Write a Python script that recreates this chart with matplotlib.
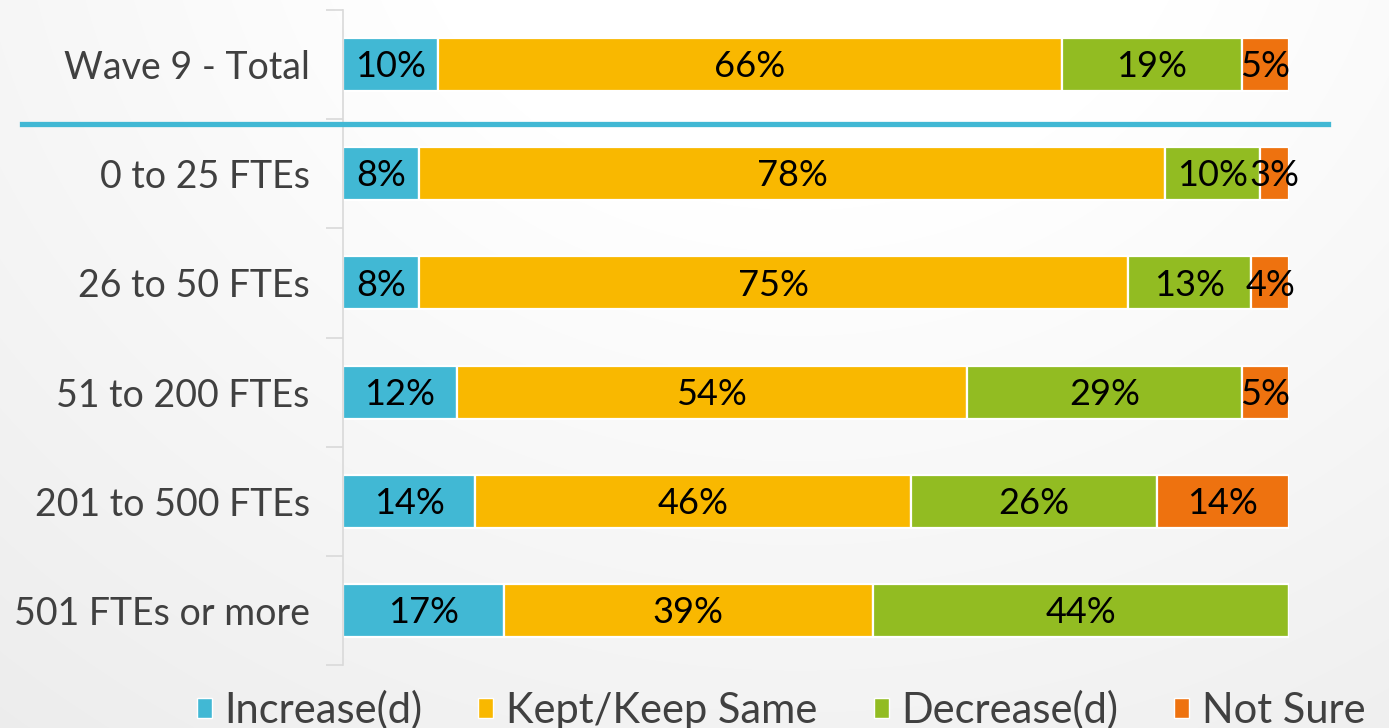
import numpy as np
import matplotlib
matplotlib.use("Agg")
import matplotlib.pyplot as plt
from matplotlib.patches import Patch
from matplotlib.lines import Line2D

categories = ["Wave 9 - Total", "0 to 25 FTEs", "26 to 50 FTEs", "51 to 200 FTEs",
              "201 to 500 FTEs", "501 FTEs or more"]
series_names = ["Increase(d)", "Kept/Keep Same", "Decrease(d)", "Not Sure"]
increase = [10, 8, 8, 12, 14, 17]
kept = [66, 78, 75, 54, 46, 39]
decrease = [19, 10, 13, 29, 26, 44]
not_sure = [5, 3, 4, 5, 14, 0]
colors = ["#41B8D4", "#F9B800", "#92BC22", "#EE720F"]

plt.rcParams['font.family'] = ['Lato', 'DejaVu Sans']

W, H = 1389, 728
fig = plt.figure(figsize=(W / 100, H / 100), dpi=100)

# background gradient
bg = fig.add_axes([0, 0, 1, 1], zorder=-10)
yy, xx = np.mgrid[0:H, 0:W]
d = np.sqrt(((xx - 800) / 900.0) ** 2 + ((yy + 150) / 800.0) ** 2)
v = 1.0 - 0.075 * np.clip(d - 0.45, 0, None)
v = np.clip(v, 0.92, 1.0)
img = np.dstack([v, v, v])
bg.imshow(img, aspect='auto', extent=[0, 1, 0, 1], origin='upper')
bg.set_axis_off()

ax = fig.add_axes([343 / W, (H - 665) / H, 946 / W, 655 / H])
ax.patch.set_alpha(0)

data = np.array([increase, kept, decrease, not_sure], dtype=float)
totals = data.sum(axis=0)
pct = data / totals * 100
ypos = np.arange(len(categories))
left = np.zeros(len(categories))
for i, name in enumerate(series_names):
    bars = ax.barh(ypos, pct[i], left=left, height=0.485, color=colors[i],
                   edgecolor="white", linewidth=1.6, label=name)
    for j, b in enumerate(bars):
        if data[i, j] > 0:
            ax.text(left[j] + pct[i, j] / 2, ypos[j] + 0.02, f"{int(data[i, j])}%",
                    ha="center", va="center", fontsize=26, color="black")
    left += pct[i]

ax.set_xlim(0, 100)
ax.set_ylim(len(categories) - 0.5, -0.5)
ax.set_xticks([])
ax.set_yticks(ypos)
ax.set_yticklabels(categories, fontsize=27, color="#404040")
ax.tick_params(axis='y', which='major', length=0, pad=24)
ax.set_yticks(np.arange(-0.5, len(categories), 1), minor=True)
ax.tick_params(axis='y', which='minor', length=12, width=1.2, color="#D9D9D9")
for s in ["top", "right", "bottom"]:
    ax.spines[s].set_visible(False)
ax.spines["left"].set_color("#D9D9D9")
ax.spines["left"].set_linewidth(1.2)

# separator line under total row
fig.add_artist(Line2D([22 / W, 1328 / W], [1 - 124 / H, 1 - 124 / H],
                      color="#41B8D4", linewidth=3.8, transform=fig.transFigure))

handles = [Patch(facecolor=c, edgecolor="white", linewidth=1.0) for c in colors]
leg = fig.legend(handles, series_names, loc="center", bbox_to_anchor=(781 / W, 1 - 710 / H),
                 ncol=4, frameon=False, fontsize=30, handlelength=0.36, handleheight=0.36,
                 handletextpad=0.3, columnspacing=1.35, labelcolor="#404040",
                 borderpad=0, borderaxespad=0)

fig.savefig("out.png", dpi=100)
